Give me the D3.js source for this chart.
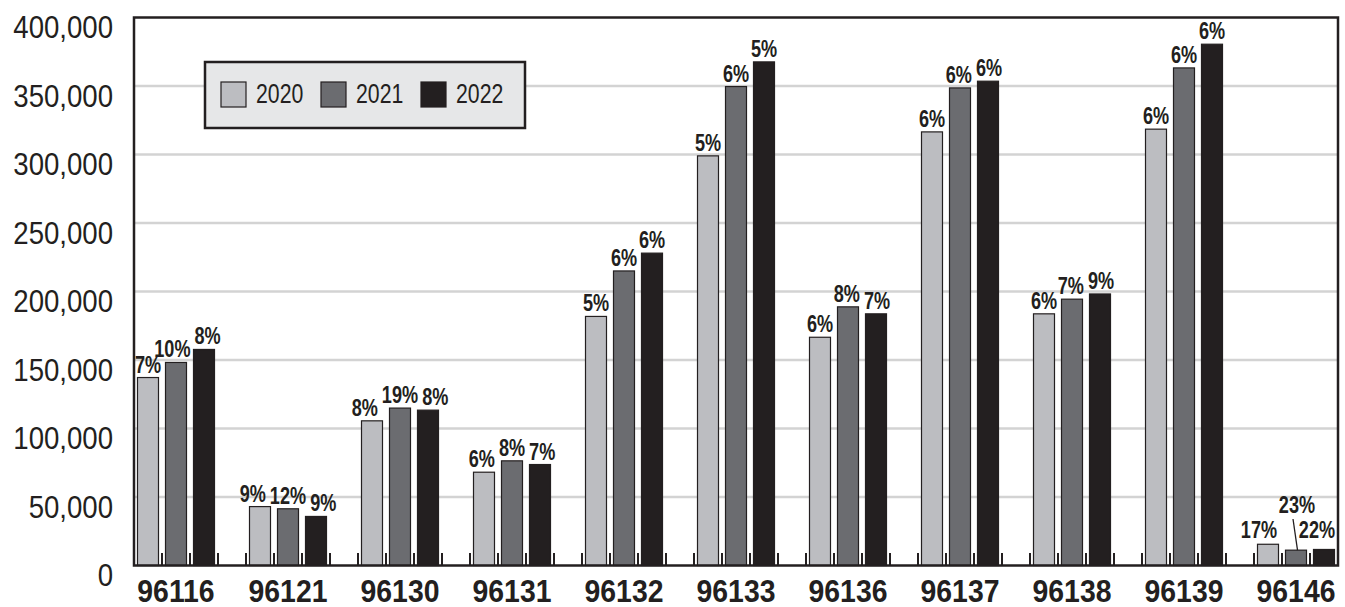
<!DOCTYPE html>
<html>
<head>
<meta charset="utf-8">
<script src="https://cdn.jsdelivr.net/npm/d3@7"></script>
<style>
  html, body { margin: 0; padding: 0; background: #ffffff; }
  svg { display: block; }
</style>
</head>
<body>
<svg id="chart" width="1345" height="607"></svg>
<script>
// ---- Data ----
const categories = ["96116","96121","96130","96131","96132","96133","96136","96137","96138","96139","96146"];
const years = ["2020","2021","2022"];
const values2020 = [137200, 43000, 105600, 68100, 181800, 299000, 166600, 316500, 183700, 318500, 15500];
const values2021 = [148200, 41400, 114900, 76400, 215000, 349600, 188800, 348600, 194400, 363200, 11200];
const values2022 = [157700, 35800, 113400, 73700, 228000, 367600, 183700, 353500, 198200, 380500, 11700];
const pct2020 = [7, 9, 8, 6, 5, 5, 6, 6, 6, 6, 17];
const pct2021 = [10, 12, 19, 8, 6, 6, 8, 6, 7, 6, 23];
const pct2022 = [8, 9, 8, 7, 6, 5, 7, 6, 9, 6, 22];
const yTicks = [0, 50000, 100000, 150000, 200000, 250000, 300000, 350000, 400000];

(function () {
const seriesValues = [values2020, values2021, values2022];
const seriesPct = [pct2020, pct2021, pct2022];
const colors = ["#bcbdc1", "#6b6c70", "#231f20"];
const ink = "#231f20";

const svg = d3.select("#chart");
const pL = 134, pR = 1338, pT = 17.5, pB = 565.5;

const y = d3.scaleLinear().domain([0, 400000]).range([pB, pT]);
const x0 = d3.scaleBand().domain(categories).range([pL, pR]).paddingInner(0.25).paddingOuter(0);
const x1 = d3.scaleBand().domain(years).range([0, x0.bandwidth()]).padding(0);

function scaledText(g, x, yy, sx, txt, anchor, size, weight) {
  const gg = g.append("g").attr("transform", `translate(${x},${yy}) scale(${sx},1)`);
  gg.append("text")
    .attr("x", 0).attr("y", 0)
    .attr("text-anchor", anchor)
    .attr("font-family", "'Liberation Sans', Arial, Helvetica, sans-serif")
    .attr("font-size", size)
    .attr("font-weight", weight)
    .attr("fill", ink)
    .text(txt);
  return gg;
}

// gridlines
svg.append("g").selectAll("line")
  .data(yTicks.filter(d => d > 0 && d < 400000))
  .join("line")
  .attr("x1", pL).attr("x2", pR)
  .attr("y1", d => y(d)).attr("y2", d => y(d))
  .attr("stroke", "#d3d3d3").attr("stroke-width", 2.5);

// y labels
const yl = svg.append("g");
yTicks.forEach(t => {
  scaledText(yl, 113, y(t) + 20.7, 0.89, d3.format(",")(t), "end", 31, "normal");
});

// bars
const bars = svg.append("g");
categories.forEach((c, i) => {
  years.forEach((yr, j) => {
    const v = seriesValues[j][i];
    const bx = x0(c) + x1(yr) + 3.5;
    const bw = x1.bandwidth() - 7;
    bars.append("rect")
      .attr("x", bx).attr("y", y(v))
      .attr("width", bw).attr("height", y(0) - y(v))
      .attr("fill", colors[j])
      .attr("stroke", ink).attr("stroke-width", 1.2);
  });
});

// ticks at slot boundaries
const ticks = svg.append("g");
categories.forEach(c => {
  for (let k = 0; k <= years.length; k++) {
    const tx = x0(c) + k * x1.bandwidth();
    ticks.append("line")
      .attr("x1", tx).attr("x2", tx)
      .attr("y1", y(0) - 12.5).attr("y2", y(0))
      .attr("stroke", ink).attr("stroke-width", 2);
  }
});

// percentage labels
const labels = svg.append("g");
const lastCat = categories[categories.length - 1];
const pSize = 24.5, pScale = 0.74, capH = 0.716 * pSize;
categories.forEach((c, i) => {
  const items = years.map((yr, j) => {
    const v = seriesValues[j][i];
    let cx = x0(c) + x1(yr) + x1.bandwidth() / 2;
    let by = y(v) - 5;
    if (c === lastCat) {
      if (j === 0) { cx -= 9; by = 538; }
      if (j === 1) { cx += 1; by = 513; }
      if (j === 2) { cx -= 7; by = 538; }
    }
    const g = scaledText(labels, cx, by, pScale, seriesPct[j][i] + "%", "middle", pSize, "bold");
    const w = g.select("text").node().getComputedTextLength() * pScale;
    return { g, cx, by, w };
  });
  if (c !== lastCat) {
    // push apart adjacent labels that collide
    for (let it = 0; it < 6; it++) {
      for (let k = 0; k < items.length - 1; k++) {
        const a = items[k], b = items[k + 1];
        const vOverlap = (a.by - capH) < b.by - 4 && (b.by - capH) < a.by - 4;
        const gap = (b.cx - b.w / 2) - (a.cx + a.w / 2);
        if (vOverlap && gap < 4) {
          const s = (4 - gap) / 2;
          a.cx -= s; b.cx += s;
        }
      }
    }
  }
  items.forEach(d => d.g.attr("transform", `translate(${d.cx},${d.by}) scale(${pScale},1)`));
});
// leader line for the small 2021 bar of the last category
{
  const cx = x0(lastCat) + x1("2021") + x1.bandwidth() / 2;
  svg.append("line")
    .attr("x1", cx - 3).attr("y1", 519)
    .attr("x2", cx + 1.5).attr("y2", y(values2021[values2021.length - 1]))
    .attr("stroke", ink).attr("stroke-width", 1.3);
}

// x labels
const xl = svg.append("g");
categories.forEach(c => {
  scaledText(xl, x0(c) + x0.bandwidth() / 2, 601.7, 0.915, c, "middle", 31, "bold");
});

// frame
svg.append("rect")
  .attr("x", pL).attr("y", pT)
  .attr("width", pR - pL).attr("height", pB - pT)
  .attr("fill", "none").attr("stroke", ink).attr("stroke-width", 2.5);

// legend
const lg = svg.append("g");
lg.append("rect")
  .attr("x", 205).attr("y", 62).attr("width", 320).attr("height", 66)
  .attr("fill", "#e6e7e8").attr("stroke", ink).attr("stroke-width", 2.5);
years.forEach((yr, j) => {
  const sx = 221 + j * 100;
  lg.append("rect")
    .attr("x", sx).attr("y", 82).attr("width", 25).attr("height", 25)
    .attr("fill", colors[j]).attr("stroke", ink).attr("stroke-width", 1.2);
  scaledText(lg, sx + 35, 103.3, 0.76, yr, "start", 28, "normal");
});
})();
</script>
</body>
</html>
